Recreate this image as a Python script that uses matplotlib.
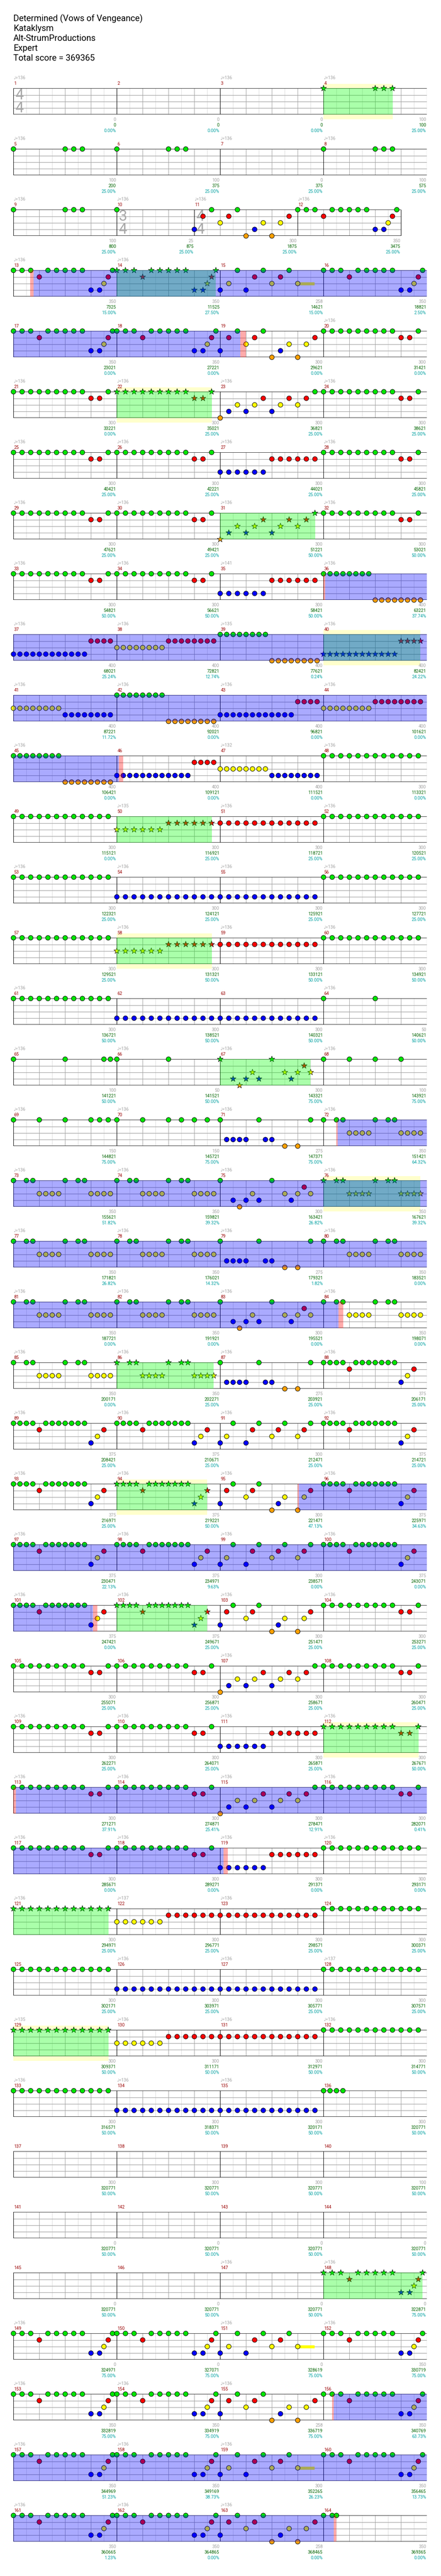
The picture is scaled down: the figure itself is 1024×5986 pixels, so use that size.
import numpy as np
import matplotlib.pyplot as plt
from matplotlib.patches import Rectangle

plt.rcParams['font.family'] = ['Roboto', 'DejaVu Sans']

title_lines = ['Determined (Vows of Vengeance)', 'Kataklysm', 'Alt-StrumProductions',
               'Expert', 'Total score = 369365']

# time signature changes: measure -> (beats, unit)
time_sigs = {1: (4, 4), 10: (3, 4), 11: (4, 4)}

# note patterns: lane letter + beat position inside the measure
patterns = {
    '': '',
    'A': 'G0 G.33 G.67 R1 G1.33 G1.67 G2 G2.33 G2.67 B3 B3.33 Y3.5 R3.67 G3.83',
    'Bp': 'B0 R.33 G.67 Y1 R1.33 G1.67 O2 B2.33 Y2.67 O3 Y3.33 R3.67',
    'C': 'G0 G.33 G.67 G1 G1.33 G1.67 G2 G2.33 G2.67 R3 R3.33 G3.67',
    'D': 'B0 Y.33 G.67 B1 R1.33 G1.67 Y2 R2.33 G2.67 Y3',
    'E': 'O0 B.33 Y.67 B1 Y1.33 R1.67 B2 Y2.33 R2.67 Y3 R3.33 G3.67',
    'F': 'B0 B.33 B.67 B1 B1.33 B1.67 R2 R2.33 R2.67 R3 R3.33 R3.67',
    'H': 'G0 G.33 G.67 G1 G1.33 G1.67 G2 G2.33 G2.67 G3 G3.33 G3.67',
    'I': 'G0 G2 G2.33 G2.67',
    'W': 'G0',
    'S1': 'B0 B.25 B.5 B.75 B1 B1.25 B1.5 B1.75 B2 B2.25 B2.5 B2.75 R3 R3.25 R3.5 R3.75',
    'S2': 'Y0 Y.25 Y.5 Y.75 Y1 Y1.25 Y1.5 Y1.75 R2 R2.25 R2.5 R2.75 R3 R3.25 R3.5 R3.75',
    'S3': 'G0 G.25 G.5 G.75 G1 G1.25 G1.5 G1.75 O2 O2.25 O2.5 O2.75 O3 O3.25 O3.5 O3.75',
    'S4': 'Y0 Y.25 Y.5 Y.75 Y1 Y1.25 Y1.5 Y1.75 B2 B2.25 B2.5 B2.75 B3 B3.25 B3.5 B3.75',
    'T': 'Y0 Y.33 Y.67 Y1 Y1.33 Y1.67 R2 R2.33 R2.67 R3 R3.33 R3.67',
    'RR': 'R0 R.33 R.67 R1 R1.33 R1.67 R2 R2.33 R2.67 R3 R3.33 R3.67',
    'BB': 'B0 B.33 B.67 B1 B1.33 B1.67 B2 B2.33 B2.67 B3 B3.33 B3.67',
    'J': 'G0 G.5 G.75 Y1 Y1.25 Y1.5 Y1.75 G2 G2.5 G2.75 Y3 Y3.25 Y3.5 Y3.75',
    'K': 'G0 B.5 O.75 B1 Y1.25 B1.5 G2 Y2.5 B2.75 Y3 R3.25 Y3.5',
    'L': 'G0 B.25 B.5 B.75 B1 G1.5 B1.75 B2 O2.5 O3 G3.5',
    'M': 'G0 G.25 G.5 G.75 R1 G1.25 G1.5 G1.75 G2 G2.25 G2.5 G2.75 B3 Y3.25 R3.5',
    'N': 'B0 Y.25 G.5 B1 R1.25 G1.5 Y2 R2.25 G2.5 Y3 R3.25 G3.5',
    'P': 'B0 R.25 G.5 Y1 R1.25 G1.5 O2 B2.25 Y2.5 O3 Y3.25 R3.5',
    'X64': 'G0 G2',
    'X65': 'G0 G2 G3.5 G3.75',
    'X68': 'G0 G1 G2 G3',
    'X69': 'G0 G1 G2 G3 G3.33 G3.67',
    'X70': 'G0 G1 G2 G2.5 G3 G3.5',
    'X136': 'G0 G.25 G.5 G.75',
    'X164': 'G0 G.33 G.5',
}

measure_pat = [
    '', '', '', 'I',
    'I', 'I', '', 'I',
    'I', 'W', 'Bp', 'A',
    'A', 'A', 'D', 'A',
    'A', 'A', 'Bp', 'C',
    'C', 'C', 'E', 'C',
    'C', 'C', 'F', 'C',
    'C', 'C', 'E', 'C',
    'C', 'C', 'F', 'S3',
    'S1', 'S2', 'S3', 'S1',
    'S4', 'S3', 'S1', 'S2',
    'S3', 'S1', 'S4', 'H',
    'H', 'T', 'RR', 'H',
    'H', 'BB', 'BB', 'H',
    'H', 'T', 'RR', 'H',
    'H', 'BB', 'BB', 'X64',
    'X65', 'X64', 'K', 'X68',
    'X69', 'X70', 'L', 'J',
    'J', 'J', 'K', 'J',
    'J', 'J', 'L', 'J',
    'J', 'J', 'K', 'J',
    'J', 'J', 'L', 'M',
    'M', 'M', 'N', 'M',
    'M', 'M', 'P', 'M',
    'M', 'M', 'N', 'M',
    'M', 'M', 'P', 'C',
    'C', 'C', 'E', 'C',
    'C', 'C', 'F', 'C',
    'C', 'C', 'E', 'C',
    'C', 'C', 'F', 'H',
    'H', 'T', 'RR', 'H',
    'H', 'BB', 'BB', 'H',
    'H', 'T', 'RR', 'H',
    'H', 'BB', 'BB', 'X136',
    '', '', '', '',
    '', '', '', '',
    '', '', '', 'A',
    'A', 'A', 'D', 'A',
    'A', 'A', 'Bp', 'A',
    'A', 'A', 'D', 'A',
    'A', 'A', 'Bp', 'X164',
]

# sustains: (measure, lane, start beat, end beat)
sustains = [(15, 'Y', 3, 3.65), (151, 'Y', 3, 3.65), (159, 'Y', 3, 3.65)]

# star power phrases: (measure, last beat)
sp_phrases = [(4, 2.67), (14, 3.83), (22, 3.67), (31, 3.67), (40, 3.75), (50, 3.67),
              (58, 3.67), (67, 3.5), (76, 3.75), (86, 3.75), (94, 3.5), (102, 3.5),
              (112, 3.67), (121, 3.67), (129, 3.67), (148, 3.83)]
whammy_phrases = [4, 22, 40, 58, 76, 94, 112, 129]

# star power active: ((measure, beat), (measure, beat))
sp_active = [((13, 0.78), (19, 0.78)), ((36, 0.06), (46, 0.08)), ((72, 0.55), (84, 0.58)),
             ((95, 3.05), (101, 3.08)), ((113, 0.1), (119, 0.13)), ((156, 0.39), (164, 0.4))]
sp_marks = [(13, 0.64, 0.78), (19, 0.78, 1.0), (36, 0.0, 0.06), (46, 0.08, 0.24),
            (72, 0.5, 0.55), (84, 0.58, 0.76), (95, 3.0, 3.05), (101, 3.08, 3.24),
            (113, 0.0, 0.1), (119, 0.13, 0.3), (156, 0.33, 0.39), (164, 0.4, 0.5)]

tempo_measures = [1, 3, 4, 5, 7, 8, 9, 10, 11, 12, 13, 14, 20] + list(range(21, 46)) + \
    [47, 48, 50, 51, 52, 53, 54, 55, 56, 58, 59, 60, 61] + list(range(64, 105)) + \
    [107] + list(range(109, 124)) + [126, 127, 128, 129, 130, 131, 132, 133, 134, 135,
                                      147, 148, 149, 151, 152, 153, 154, 155, 157, 158, 159,
                                      161, 162, 163]
tempo_other = {35: 141, 39: 135, 47: 132, 50: 135, 122: 137, 128: 137, 129: 135}

scores = [0, 0, 0, 100, 100, 100, 0, 100, 100, 25, 300, 350, 350, 350, 258, 350,
          350, 350, 300, 300, 300, 300, 300, 300, 300, 300, 300, 300, 300, 300, 300, 300,
          300, 300, 300, 400, 400, 400, 400, 400, 400, 400, 400, 400, 400, 400, 400, 300,
          300, 300, 300, 300, 300, 300, 300, 300, 300, 300, 300, 300, 300, 300, 300, 50,
          100, 50, 300, 100, 150, 150, 275, 350, 350, 350, 300, 350, 350, 350, 275, 350,
          350, 350, 300, 350, 350, 350, 275, 375, 375, 375, 300, 375, 375, 375, 300, 375,
          375, 375, 300, 375, 375, 375, 300, 300, 300, 300, 300, 300, 300, 300, 300, 300,
          300, 300, 300, 300, 300, 300, 300, 300, 300, 300, 300, 300, 300, 300, 300, 300,
          300, 300, 300, 300, 300, 300, 300, 300, 300, 300, 300, 100, 0, 0, 0, 0,
          0, 0, 0, 0, 0, 0, 0, 350, 350, 350, 258, 350, 350, 350, 300, 350,
          350, 350, 258, 350, 350, 350, 300, 75]
totals = [0, 0, 0, 100, 200, 375, 375, 575, 800, 875, 1875, 3475,
          7325, 11525, 14621, 18821, 23021, 27221, 29621, 31421,
          33221, 35021, 36821, 38621, 40421, 42221, 44021, 45821,
          47621, 49421, 51221, 53021, 54821, 56621, 58421, 63221,
          68021, 72821, 77621, 82421, 87221, 92021, 96821, 101621,
          106421, 109121, 111521, 113321, 115121, 116921, 118721, 120521,
          122321, 124121, 125921, 127721, 129521, 131321, 133121, 134921,
          136721, 138521, 140321, 140621, 141221, 141521, 143321, 143921,
          144821, 145721, 147371, 151421, 155621, 159821, 163421, 167621,
          171821, 176021, 179321, 183521, 187721, 191921, 195521, 198071,
          200171, 202271, 203921, 206171, 208421, 210671, 212471, 214721,
          216971, 219221, 221471, 225971, 230471, 234971, 238571, 243071,
          247421, 249671, 251471, 253271, 255071, 256871, 258671, 260471,
          262271, 264071, 265871, 267671, 271271, 274871, 278471, 282071,
          285671, 289271, 291371, 293171, 294971, 296771, 298571, 300371,
          302171, 303971, 305771, 307571, 309371, 311171, 312971, 314771,
          316571, 318371, 320171, 320771, 320771, 320771, 320771, 320771,
          320771, 320771, 320771, 320771, 320771, 320771, 320771, 322871,
          324971, 327071, 328619, 330719, 332819, 334919, 336719, 340769,
          344969, 349169, 352265, 356465, 360665, 364865, 368465, 369365]
pcts = [0, 0, 0, 25, 25, 25, 25, 25, 25, 25, 25, 25, 15, 27.5, 15, 2.5,
        0, 0, 0, 0, 0, 25, 25, 25, 25, 25, 25, 25, 25, 25, 50, 50,
        50, 50, 50, 37.74, 25.24, 12.74, 0.24, 24.22, 11.72, 0, 0, 0, 0, 0, 0, 0,
        0, 25, 25, 25, 25, 25, 25, 25, 25, 50, 50, 50, 50, 50, 50, 50,
        50, 50, 75, 75, 75, 75, 75, 64.32, 51.82, 39.32, 26.82, 39.32,
        26.82, 14.32, 1.82, 0, 0, 0, 0, 0, 0, 25, 25, 25, 25, 25, 25, 25,
        25, 50, 47.13, 34.63, 22.13, 9.63, 0, 0, 0, 25, 25, 25, 25, 25, 25, 25,
        25, 25, 25, 50, 37.91, 25.41, 12.91, 0.41, 0, 0, 0, 0, 25, 25, 25, 25,
        25, 25, 25, 25, 50, 50, 50, 50, 50, 50, 50, 50, 50, 50, 50, 50,
        50, 50, 50, 50, 50, 50, 50, 75, 75, 75, 75, 75, 75, 75, 75, 63.73,
        51.23, 38.73, 26.23, 13.73, 1.23, 0, 0, 0]

lane_of = {c: i for i, c in enumerate('GRYBO')}
note_col = {'G': '#00e600', 'R': '#ff0000', 'Y': '#ffff00', 'B': '#0000ff', 'O': '#ffa000'}


def parse(pat):
    out = []
    for tok in patterns[pat].split():
        out.append((tok[0], round(float(tok[1:]) * 12) / 12))
    return out


beats = []
cur = 4
for m in range(1, 165):
    if m in time_sigs:
        cur = time_sigs[m][0]
    beats.append(cur)
starts = np.concatenate([[0], np.cumsum(beats)])


def gbeat(m, b):
    return starts[m - 1] + b


W, H = 1024, 5986
left_px, beat_px = 31.3, 60.0
top0, row_step, staff_px = 205.3, 141.0, 61.0
lane_px = staff_px / 4

fig = plt.figure(figsize=(W / 100, H / 100), dpi=100)
fig.patch.set_facecolor('white')

for i, (line, base) in enumerate(zip(title_lines, [49.5, 72, 95, 118, 141])):
    fig.text(31 / W, 1 - base / H, line, fontsize=14.5, ha='left', va='baseline', color='black')

star_lookup = dict(sp_phrases)

for r in range(41):
    top = top0 + r * row_step
    ax = fig.add_axes([left_px / W, 1 - (top + staff_px) / H, 16 * beat_px / W, staff_px / H])
    ax.set_xlim(0, 16)
    ax.set_ylim(4, 0)
    ax.axis('off')
    ms = list(range(r * 4 + 1, r * 4 + 5))
    rs, re_ = starts[r * 4], starts[r * 4 + 4]
    L = re_ - rs

    # whammy / phrase highlight boxes behind the staff
    for m in whammy_phrases:
        if m in ms:
            x0 = gbeat(m, 0) - rs
            ax.add_patch(Rectangle((x0, -0.68), star_lookup[m], 5.4, fc='#ffffcc', lw=0,
                                   zorder=0.2, clip_on=False))
    ax.add_patch(Rectangle((0, 0), L, 4, fc='white', lw=0, zorder=0.5))

    # grid
    mlines = starts[r * 4:r * 4 + 5] - rs
    ax.vlines(np.arange(0.5, L, 1.0), 0, 4, color='#dcdcdc', lw=0.75, zorder=1)
    ints = [b for b in np.arange(1, L) if b not in mlines]
    ax.vlines(ints, 0, 4, color='#a0a0a0', lw=0.75, zorder=1.1)
    ax.hlines([1, 2, 3], 0, L, color='#a0a0a0', lw=0.9, zorder=1.1)
    ax.vlines(mlines, 0, 4, color='black', lw=0.8, zorder=1.2)
    ax.hlines([0, 4], 0, L, color='black', lw=1.2, zorder=1.2)

    # time signatures
    for m in ms:
        if m in time_sigs:
            x0 = gbeat(m, 0) - rs
            num, den = time_sigs[m]
            ax.text(x0 + 0.07, 1.05, str(num), fontsize=25, color='#a8a8a8', ha='left',
                    va='center', zorder=1.3)
            ax.text(x0 + 0.07, 3.0, str(den), fontsize=25, color='#a8a8a8', ha='left',
                    va='center', zorder=1.3)

    # sustains
    for m, lane, b0, b1 in sustains:
        if m in ms:
            ax.hlines(lane_of[lane], gbeat(m, b0) - rs, gbeat(m, b1) - rs,
                      color=note_col[lane], lw=5, zorder=2.5)

    # notes
    cx, cy, cc, sx, sy, sc = [], [], [], [], [], []
    for m in ms:
        for lane, pos in parse(measure_pat[m - 1]):
            x = gbeat(m, pos) - rs
            if m in star_lookup and pos <= star_lookup[m] + 0.02:
                sx.append(x); sy.append(lane_of[lane]); sc.append(note_col[lane])
            else:
                cx.append(x); cy.append(lane_of[lane]); cc.append(note_col[lane])
    if cx:
        ax.scatter(cx, cy, s=62, c=cc, edgecolors='black', linewidths=0.75, zorder=3,
                   clip_on=False)
    if sx:
        ax.scatter(sx, sy, s=110, c=sc, marker='*', edgecolors='black', linewidths=0.6,
                   zorder=3, clip_on=False)

    # star power phrase overlay
    for m, end in sp_phrases:
        if m in ms:
            ax.add_patch(Rectangle((gbeat(m, 0) - rs, 0), end, 4, fc=(0, 1, 0), alpha=1 / 3,
                                   lw=0, zorder=4))
    # star power active overlay
    for (m0, b0), (m1, b1) in sp_active:
        g0, g1 = max(gbeat(m0, b0), rs), min(gbeat(m1, b1), re_)
        if g1 > g0:
            ax.add_patch(Rectangle((g0 - rs, 0), g1 - g0, 4, fc=(0, 0, 1), alpha=1 / 3,
                                   lw=0, zorder=4.1))
    for m, b0, b1 in sp_marks:
        if m in ms:
            ax.add_patch(Rectangle((gbeat(m, b0) - rs, 0), b1 - b0, 4, fc=(1, 0, 0),
                                   alpha=1 / 3, lw=0, zorder=4.2))

    # labels
    for m in ms:
        x0, x1 = gbeat(m, 0) - rs, starts[m] - rs
        ax.text(x0 + 0.02, -11.6 / lane_px, str(m), color='#990000', fontsize=7.4,
                ha='left', va='center')
        if m in tempo_measures:
            ax.text(x0, -24.3 / lane_px, '\u2669=%d' % tempo_other.get(m, 136),
                    color='#a0a0a0', fontsize=7.4, ha='left', va='center')
        ax.text(x1 - 0.03, 72.7 / lane_px, str(scores[m - 1]), color='#a0a0a0',
                fontsize=7.4, ha='right', va='center')
        ax.text(x1 - 0.03, 85.7 / lane_px, str(totals[m - 1]), color='#006400',
                fontsize=7.4, ha='right', va='center')
        ax.text(x1 - 0.03, 98.7 / lane_px, '%.2f%%' % pcts[m - 1], color='#00a0a0',
                fontsize=7.4, ha='right', va='center')

fig.savefig('out.png', dpi=100, facecolor='white')
